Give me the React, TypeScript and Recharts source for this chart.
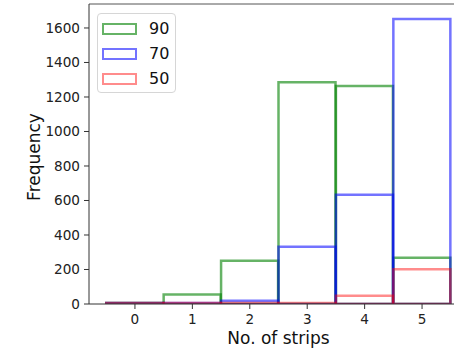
import React from "react"
import { ComposedChart, Bar, XAxis, YAxis, Legend, Label, ReferenceLine } from "recharts"

// histogram counts per number of strips
const strips = [0, 1, 2, 3, 4, 5]
const freq90 = [0, 55, 251, 1285, 1264, 268]
const freq70 = [0, 3, 19, 332, 634, 1652]
const freq50 = [0, 0, 0, 2, 48, 201]

const seriesNames = ["90", "70", "50"]
const seriesKeys = ["s90", "s70", "s50"]
const seriesColors = ["rgba(0,128,0,0.6)", "rgba(0,0,255,0.55)", "rgba(255,0,0,0.45)"]

const yTicks = [0, 200, 400, 600, 800, 1000, 1200, 1400, 1600]
const xTicks = [0, 1, 2, 3, 4, 5]
const X_DOMAIN: [number, number] = [-0.8, 5.8]
const Y_MAX = 1739

const data = strips.map((s, i) => ({ strips: s, s90: freq90[i], s70: freq70[i], s50: freq50[i] }))

const FONT = "'DejaVu Sans', sans-serif"
const AXIS_IDS = [0, "b", "c"]

const LegendBox = () => (
  <div
    style={{
      boxSizing: "border-box",
      width: 79,
      height: 80,
      padding: "2px 0 0 4px",
      border: "1px solid #d6d6d6",
      borderRadius: 4,
      background: "rgba(255,255,255,0.8)",
      fontFamily: FONT,
      fontSize: 16,
      color: "#111",
    }}
  >
    {seriesNames.map((name, i) => (
      <div key={name} style={{ display: "flex", alignItems: "center", height: 25 }}>
        <div
          style={{
            boxSizing: "border-box",
            width: 35,
            height: 12,
            border: `2.5px solid ${seriesColors[i]}`,
            marginRight: 12,
          }}
        />
        <span>{name}</span>
      </div>
    ))}
  </div>
)

export default function App() {
  return (
    <div style={{ position: "absolute", left: 0, top: 0, width: 454, height: 353, overflow: "hidden", background: "#fff" }}>
      <ComposedChart
        width={480}
        height={353}
        data={data}
        margin={{ top: 4, right: 12, bottom: 0, left: 0 }}
        barCategoryGap={0}
        barGap={0}
      >
        <XAxis
          xAxisId={0}
          dataKey="strips"
          type="number"
          domain={X_DOMAIN}
          allowDataOverflow
          ticks={xTicks}
          height={49}
          tickSize={5}
          tickMargin={5}
          stroke="#333"
          tick={{ fill: "#222", fontSize: 13.6, fontFamily: FONT }}
        >
          <Label
            content={({ viewBox }: any) => (
              <text
                x={viewBox.x + viewBox.width / 2}
                y={viewBox.y + 40}
                textAnchor="middle"
                fill="#111"
                fontSize={17}
                fontFamily={FONT}
              >
                No. of strips
              </text>
            )}
          />
        </XAxis>
        <XAxis xAxisId="b" dataKey="strips" type="number" domain={X_DOMAIN} allowDataOverflow hide />
        <XAxis xAxisId="c" dataKey="strips" type="number" domain={X_DOMAIN} allowDataOverflow hide />
        <YAxis
          type="number"
          domain={[0, Y_MAX]}
          allowDataOverflow
          ticks={yTicks}
          width={89}
          tickSize={5}
          tickMargin={4}
          stroke="#333"
          tick={{ fill: "#222", fontSize: 13.6, fontFamily: FONT }}
        >
          <Label
            content={({ viewBox }: any) => {
              const cx = 40
              const cy = viewBox.y + viewBox.height / 2 + 3
              return (
                <text
                  x={cx}
                  y={cy}
                  transform={`rotate(-90 ${cx} ${cy})`}
                  textAnchor="middle"
                  fill="#111"
                  fontSize={17}
                  fontFamily={FONT}
                >
                  Frequency
                </text>
              )
            }}
          />
        </YAxis>
        <ReferenceLine xAxisId={0} y={Y_MAX} stroke="#555" strokeWidth={1} ifOverflow="extendDomain" />
        {seriesKeys.map((key, i) => (
          <Bar
            key={key}
            xAxisId={AXIS_IDS[i]}
            dataKey={key}
            name={seriesNames[i]}
            fill="none"
            stroke={seriesColors[i]}
            strokeWidth={2.5}
            minPointSize={1}
            isAnimationActive={false}
          />
        ))}
        <Legend
          layout="vertical"
          align="center"
          verticalAlign="middle"
          wrapperStyle={{ left: 97, top: 13, width: 79 }}
          content={() => <LegendBox />}
        />
      </ComposedChart>
    </div>
  )
}
